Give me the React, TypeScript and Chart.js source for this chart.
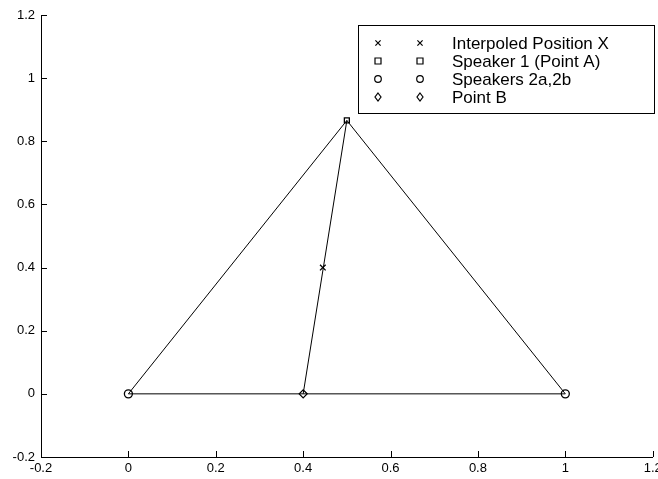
import React, { useEffect, useRef } from "react";
import { Chart, registerables } from "chart.js";

Chart.register(...registerables);

// ---- data ----
const triangleX = [0, 0.5, 1, 0];
const triangleY = [0, 0.866, 0, 0];
const pathX = [0.4, 0.5];
const pathY = [0, 0.866];
const interpX = [0.445];
const interpY = [0.4];
const speaker1X = [0.5];
const speaker1Y = [0.866];
const speakers2X = [0, 1];
const speakers2Y = [0, 0];
const pointBX = [0.4];
const pointBY = [0];
const xTicks = [-0.2, 0, 0.2, 0.4, 0.6, 0.8, 1, 1.2];
const yTicks = [-0.2, 0, 0.2, 0.4, 0.6, 0.8, 1, 1.2];
const legendLabels = [
  "Interpoled Position X",
  "Speaker 1 (Point A)",
  "Speakers 2a,2b",
  "Point B",
];
const legendMarkers = ["cross", "square", "circle", "diamond"];

const FONT = "'Liberation Sans', Arial, Helvetica, sans-serif";

const zip = (xs: number[], ys: number[]) => xs.map((x, i) => ({ x, y: ys[i] }));

const fmt = (v: number) => String(Number(v.toFixed(1)));

function drawMarker(ctx: CanvasRenderingContext2D, kind: string, x: number, y: number) {
  ctx.save();
  ctx.strokeStyle = "#000";
  ctx.lineWidth = 1.2;
  ctx.beginPath();
  if (kind === "cross") {
    const r = 2.6;
    ctx.moveTo(x - r, y - r);
    ctx.lineTo(x + r, y + r);
    ctx.moveTo(x - r, y + r);
    ctx.lineTo(x + r, y - r);
  } else if (kind === "square") {
    const r = 3;
    ctx.rect(x - r, y - r, 2 * r, 2 * r);
  } else if (kind === "circle") {
    ctx.arc(x, y, 3.3, 0, Math.PI * 2);
  } else if (kind === "diamond") {
    ctx.moveTo(x, y - 4);
    ctx.lineTo(x + 3, y);
    ctx.lineTo(x, y + 4);
    ctx.lineTo(x - 3, y);
    ctx.closePath();
  }
  ctx.stroke();
  ctx.restore();
}

const customPlugin = {
  id: "matlabDecor",
  afterDatasetsDraw(chart: any) {
    const ctx: CanvasRenderingContext2D = chart.ctx;
    const { left, right, top, bottom } = chart.chartArea;
    const xs = chart.scales.x;
    const ys = chart.scales.y;
    const tl = 6;
    ctx.save();
    ctx.strokeStyle = "#000";
    ctx.lineWidth = 1;
    ctx.beginPath();
    xTicks.forEach((v) => {
      const px = Math.round(xs.getPixelForValue(v)) + 0.5;
      ctx.moveTo(px, bottom);
      ctx.lineTo(px, bottom - tl);
    });
    yTicks.forEach((v) => {
      const py = Math.round(ys.getPixelForValue(v)) + 0.5;
      ctx.moveTo(left, py);
      ctx.lineTo(left + tl, py);
    });
    ctx.stroke();

    // legend
    const bx = 358.5, by = 25.5, bw = 296, bh = 88;
    ctx.fillStyle = "#fff";
    ctx.fillRect(bx, by, bw, bh);
    ctx.strokeStyle = "#000";
    ctx.lineWidth = 1;
    ctx.strokeRect(bx, by, bw, bh);
    const rows = [43, 61, 79, 97];
    ctx.fillStyle = "#000";
    ctx.font = `17px ${FONT}`;
    ctx.textBaseline = "middle";
    ctx.textAlign = "left";
    legendLabels.forEach((label, i) => {
      drawMarker(ctx, legendMarkers[i], 378, rows[i]);
      drawMarker(ctx, legendMarkers[i], 420, rows[i]);
      ctx.fillText(label, 452, rows[i] + 1);
    });
    ctx.restore();
  },
};

export default function App() {
  const ref = useRef<HTMLCanvasElement | null>(null);

  useEffect(() => {
    document.body.style.margin = "0";
    const canvas = ref.current;
    if (!canvas) return;
    const lineDs = (data: any[]) => ({
      data,
      showLine: true,
      borderColor: "#000",
      borderWidth: 1,
      pointRadius: 0,
      tension: 0,
      fill: false,
    });
    const ptDs = (data: any[], style: string, radius: number, rotation = 0) => ({
      data,
      showLine: false,
      pointStyle: style,
      pointRadius: radius,
      pointRotation: rotation,
      pointBorderColor: "#000",
      pointBackgroundColor: "rgba(0,0,0,0)",
      pointBorderWidth: 1.3,
    });
    const chart = new Chart(canvas, {
      type: "scatter",
      data: {
        datasets: [
          lineDs(zip(triangleX, triangleY)),
          lineDs(zip(pathX, pathY)),
          ptDs(zip(interpX, interpY), "crossRot", 4),
          ptDs(zip(speaker1X, speaker1Y), "rect", 3.5),
          ptDs(zip(speakers2X, speakers2Y), "circle", 4),
          ptDs(zip(pointBX, pointBY), "rectRot", 4),
        ] as any,
      },
      options: {
        animation: false,
        responsive: false,
        devicePixelRatio: 1,
        layout: { padding: { top: 15, right: 3, left: 0, bottom: 0 } },
        plugins: {
          legend: { display: false },
          tooltip: { enabled: false },
        },
        scales: {
          x: {
            type: "linear",
            min: -0.2,
            max: 1.2,
            afterBuildTicks: (s: any) => {
              s.ticks = xTicks.map((v) => ({ value: v }));
            },
            afterFit: (s: any) => {
              s.height = 22;
              s.paddingLeft = 0;
              s.paddingRight = 0;
            },
            grid: { display: false, drawTicks: false },
            border: { display: true, color: "#000", width: 1 },
            ticks: {
              color: "#000",
              padding: 4,
              maxRotation: 0,
              autoSkip: false,
              font: { family: FONT, size: 13 },
              callback: (v: any) => fmt(Number(v)),
            },
          },
          y: {
            type: "linear",
            min: -0.2,
            max: 1.2,
            afterBuildTicks: (s: any) => {
              s.ticks = yTicks.map((v) => ({ value: v }));
            },
            afterFit: (s: any) => {
              s.width = 41;
              s.paddingTop = 0;
              s.paddingBottom = 0;
            },
            grid: { display: false, drawTicks: false },
            border: { display: true, color: "#000", width: 1 },
            ticks: {
              color: "#000",
              padding: 6,
              autoSkip: false,
              font: { family: FONT, size: 13 },
              callback: (v: any) => fmt(Number(v)),
            },
          },
        },
      },
      plugins: [customPlugin],
    });
    return () => chart.destroy();
  }, []);

  return (
    <div
      style={{
        position: "fixed",
        left: 0,
        top: 0,
        width: 658,
        height: 479,
        overflow: "hidden",
        background: "#fff",
      }}
    >
      <canvas ref={ref} width={658} height={479} style={{ display: "block" }} />
    </div>
  );
}
